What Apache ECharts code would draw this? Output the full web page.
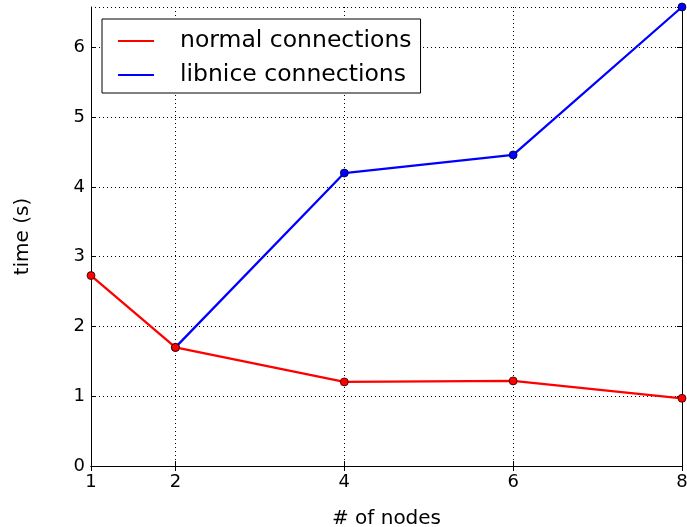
<!DOCTYPE html>
<html>
<head>
<meta charset="utf-8">
<script src="https://cdn.jsdelivr.net/npm/echarts@6/dist/echarts.min.js"></script>
<style>
  html, body { margin: 0; padding: 0; background: #fff; }
  #chart { width: 687px; height: 527px; }
</style>
</head>
<body>
<div id="chart"></div>
<script>
// Node counts and measured connection times (seconds)
const nodes = [1, 2, 4, 6, 8];
const normalTimes = [2.73, 1.70, 1.205, 1.22, 0.97];
const libniceNodes = [2, 4, 6, 8];
const libniceTimes = [1.70, 4.20, 4.46, 6.58];
const xTicks = [1, 2, 4, 6, 8];
const yMax = 6.58;

const FONT = 'DejaVu Sans';
const RED = '#ff0000';
const BLUE = '#0000ff';

const pairs = (xs, ys) => xs.map((x, i) => [x, ys[i]]);

const chart = echarts.init(document.getElementById('chart'), null, { renderer: 'canvas' });

const baseX = {
  type: 'value', min: 1, max: 8,
  axisLine: { lineStyle: { color: '#000', width: 1 } },
  axisTick: { inside: true, length: 5, customValues: xTicks, lineStyle: { color: '#000' } },
  splitLine: { show: false }
};
const baseY = {
  type: 'value', min: 0, max: yMax, interval: 1,
  axisLine: { show: true, lineStyle: { color: '#000', width: 1 } },
  axisTick: { show: true, inside: true, length: 5, lineStyle: { color: '#000' } },
  splitLine: { show: false }
};

chart.setOption({
  animation: false,
  backgroundColor: '#fff',
  grid: { left: 91, right: 5, top: 7, bottom: 61, containLabel: false, outerBoundsMode: 'none' },
  legend: {
    orient: 'vertical',
    left: 102, top: 19,
    padding: [10, 9, 6, 16],
    itemGap: 10,
    backgroundColor: '#fff',
    borderColor: '#000', borderWidth: 1, borderRadius: 0,
    icon: 'rect', itemWidth: 36, itemHeight: 2,
    textStyle: { fontFamily: FONT, fontSize: 23.5, color: '#000', padding: [0, 0, 0, 21] },
    data: [
      { name: 'normal connections', itemStyle: { color: RED, borderWidth: 0 } },
      { name: 'libnice connections', itemStyle: { color: BLUE, borderWidth: 0 } }
    ]
  },
  xAxis: [
    Object.assign({}, baseX, {
      position: 'bottom',
      name: '# of nodes', nameLocation: 'middle', nameGap: 43,
      nameTextStyle: { fontFamily: FONT, fontSize: 20, color: '#000' },
      axisLabel: { customValues: xTicks, margin: 7, fontFamily: FONT, fontSize: 18, color: '#000' },
      splitLine: { show: true, lineStyle: { color: '#000', type: [1, 3], width: 1 } }
    }),
    Object.assign({}, baseX, { position: 'top', axisLabel: { show: false } })
  ],
  yAxis: [
    Object.assign({}, baseY, {
      position: 'left',
      name: 'time (s)', nameLocation: 'middle', nameGap: 58, nameRotate: 90,
      nameTextStyle: { fontFamily: FONT, fontSize: 20, color: '#000' },
      axisLabel: {
        margin: 6, fontFamily: FONT, fontSize: 18, color: '#000',
        showMaxLabel: false,
        formatter: v => (Number.isInteger(v) ? String(v) : '')
      },
      splitLine: { show: true, lineStyle: { color: '#000', type: [1, 3], width: 1 } }
    }),
    Object.assign({}, baseY, { position: 'right', axisLabel: { show: false } })
  ],
  series: [
    {
      name: 'libnice connections', type: 'line',
      data: pairs(libniceNodes, libniceTimes),
      color: BLUE,
      lineStyle: { width: 2.3, color: BLUE },
      symbol: 'circle', symbolSize: 8,
      itemStyle: { color: BLUE, borderColor: '#000', borderWidth: 0.7 },
      z: 2
    },
    {
      name: 'normal connections', type: 'line',
      data: pairs(nodes, normalTimes),
      color: RED,
      lineStyle: { width: 2.3, color: RED },
      symbol: 'circle', symbolSize: 8,
      itemStyle: { color: RED, borderColor: '#000', borderWidth: 0.7 },
      z: 3
    }
  ]
});
</script>
</body>
</html>
